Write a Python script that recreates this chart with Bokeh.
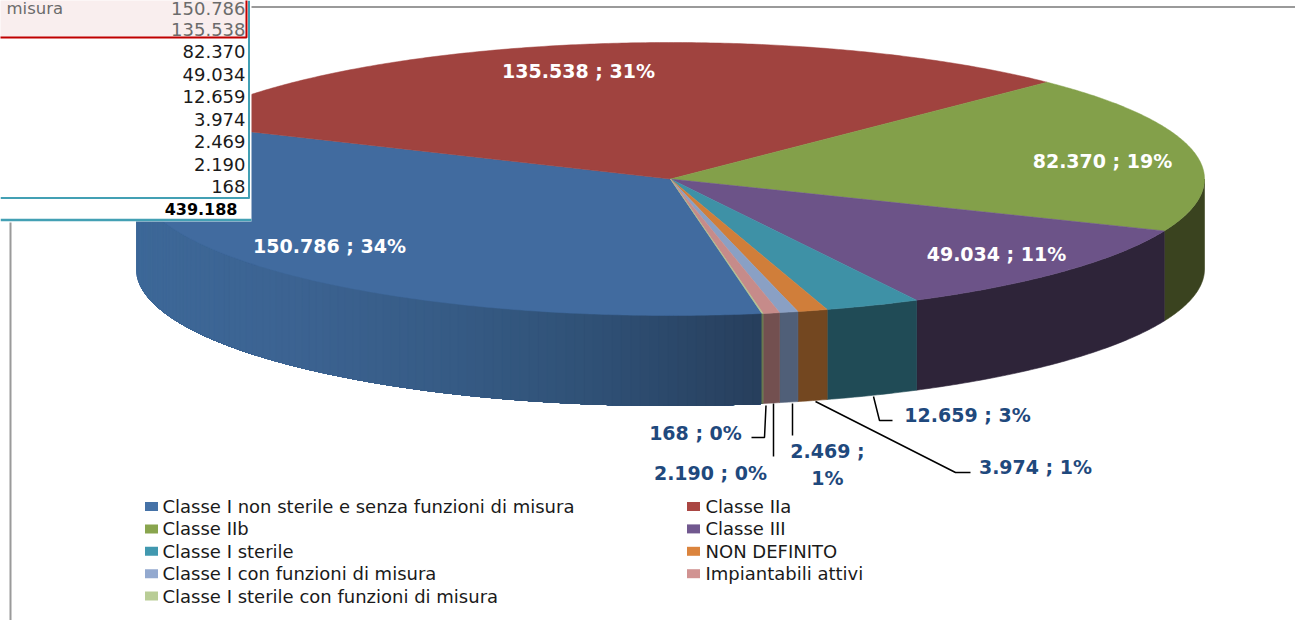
import math

from bokeh.core.properties import value
from bokeh.embed import file_html
from bokeh.models import Range1d
from bokeh.plotting import figure
from bokeh.resources import INLINE

# Devices per class, in slice order (clockwise from the start angle)
categories = [
    "Classe I non sterile e senza funzioni di misura",
    "Classe IIa",
    "Classe IIb",
    "Classe III",
    "Classe I sterile",
    "NON DEFINITO",
    "Classe I con funzioni di misura",
    "Impiantabili attivi",
    "Classe I sterile con funzioni di misura",
]
counts = [150786, 135538, 82370, 49034, 12659, 3974, 2469, 2190, 168]

top_colors = ["#416b9f", "#a0433f", "#83a04a", "#6c5388", "#3e91a6",
              "#d07e3a", "#8aa0c4", "#c68b8a", "#b0c38f"]
side_colors = ["#2b4566", "#6a2c2a", "#3a431f", "#2e2439", "#204b56",
               "#734720", "#505f78", "#735050", "#6a7a50"]
legend_colors = ["#4572a7", "#aa4643", "#89a54e", "#71588f", "#4198af",
                 "#db843d", "#93a9cf", "#d19392", "#b9cd96"]

# Lighting of the largest slice's wall, left to right
wall_stops = [(136, "#3d6898"), (290, "#3c6392"), (450, "#365b85"),
              (600, "#2f5075"), (762, "#273e5c")]

# Pie projection
CX, CY, RX, RY, DEPTH = 670.0, 178.5, 534.0, 136.5, 90.0
START_DEG = 279.85

total = sum(counts)


def fmt(n):
    return f"{n:,}".replace(",", ".")


def rim(deg, drop=0.0):
    t = math.radians(deg)
    return CX + RX * math.cos(t), CY - RY * math.sin(t) + drop


def wall_shade(x):
    for (x0, c0), (x1, c1) in zip(wall_stops, wall_stops[1:]):
        if x <= x1:
            f = max(0.0, (x - x0) / (x1 - x0))
            a = [int(c0[i:i + 2], 16) for i in (1, 3, 5)]
            b = [int(c1[i:i + 2], 16) for i in (1, 3, 5)]
            return "#%02x%02x%02x" % tuple(round(u + (v - u) * f) for u, v in zip(a, b))
    return wall_stops[-1][1]


def wall_polygon(lo, hi):
    """Wall below the rim between two angles."""
    steps = max(2, int((hi - lo) / 0.5))
    upper = [rim(lo + (hi - lo) * s / steps) for s in range(steps + 1)]
    lower = [rim(lo + (hi - lo) * s / steps, DEPTH) for s in range(steps, -1, -1)]
    pts = upper + lower
    return [q[0] for q in pts], [q[1] for q in pts]


p = figure(width=1295, height=620, output_backend="svg", toolbar_location=None,
           x_range=Range1d(0, 1295), y_range=Range1d(620, 0),
           x_axis_location=None, y_axis_location=None, min_border=0,
           outline_line_color=None, background_fill_color="white")
p.grid.visible = False

# Chart frame lines
p.line([10, 10], [222, 620], line_color="#9a9a9a", line_width=2)
p.line([250, 1295], [6.5, 6.5], line_color="#9a9a9a", line_width=2)

# Slice extents, clockwise
spans = []
angle = START_DEG
for c in counts:
    sweep = 360.0 * c / total
    spans.append((angle, angle - sweep))
    angle -= sweep

# Visible wall of each slice: only the part on the front half of the rim.
# The shaded wall is painted in bands, each running on to the slice's end so
# that the next band covers it and no seam shows.
wall_xs, wall_ys, wall_cols = [], [], []
for i, (a0, a1) in enumerate(spans):
    for shift in (0, 360):
        hi = min(a0 + shift, 360.0)
        lo = max(a1 + shift, 180.0)
        if hi <= lo:
            continue
        if i == 0:
            bands = int((hi - lo) / 1.0)
            for s in range(bands):
                d0 = lo + (hi - lo) * s / bands
                xs, ys = wall_polygon(d0, hi)
                wall_xs.append(xs)
                wall_ys.append(ys)
                wall_cols.append(wall_shade(rim(d0 + (hi - lo) / bands / 2)[0]))
        else:
            xs, ys = wall_polygon(lo, hi)
            wall_xs.append(xs)
            wall_ys.append(ys)
            wall_cols.append(side_colors[i])
p.patches(wall_xs, wall_ys, fill_color=wall_cols, line_color=wall_cols, line_width=0.6)

# Top face of each slice
top_xs, top_ys = [], []
for a0, a1 in spans:
    steps = max(2, int((a0 - a1) / 0.5))
    pts = [rim(a0 + (a1 - a0) * s / steps) for s in range(steps + 1)]
    top_xs.append([CX] + [q[0] for q in pts])
    top_ys.append([CY] + [q[1] for q in pts])
p.patches(top_xs, top_ys, fill_color=top_colors, line_color=top_colors, line_width=0.5)

# Data labels
labels = [f"{fmt(c)} ; {round(100 * c / total)}%" for c in counts]
LABEL_FONT = value("DejaVu Sans")
inside_at = [(329, 245), (578, 70.5), (1102, 160.5), (996, 253.5)]
p.text([q[0] for q in inside_at], [q[1] for q in inside_at], text=labels[:4],
       text_color="white", text_font=LABEL_FONT, text_font_style="bold",
       text_font_size="19px", text_align="center", text_baseline="middle")

outside_at = [(967, 414.5), (1035, 466), (827, 464), (710, 472.5), (695, 432.5)]
outside_text = [labels[4], labels[5], labels[6].replace("; ", ";\n"), labels[7], labels[8]]
p.text([q[0] for q in outside_at], [q[1] for q in outside_at], text=outside_text,
       text_color="#1f497d", text_font=LABEL_FONT, text_font_style="bold",
       text_font_size="19px", text_align="center", text_baseline="middle",
       text_line_height=1.2)

# Leader lines
leaders = [
    ([873, 879, 892], [396, 420, 420]),
    ([815, 955, 970], [401, 472, 472]),
    ([792, 792], [403, 435]),
    ([773, 773], [403, 456]),
    ([765.5, 764, 751], [405, 437, 437]),
]
p.multi_line([q[0] for q in leaders], [q[1] for q in leaders],
             line_color="black", line_width=1.5)

# Legend, two columns, filled row by row
LEG_ROW0, LEG_STEP = 506.0, 22.4
leg_col = [(151, 162), (693, 705)]
leg_sx, leg_sy, leg_tx = [], [], []
for i in range(len(categories)):
    sx, tx = leg_col[i % 2]
    row = i // 2
    leg_sx.append(sx)
    leg_sy.append(LEG_ROW0 + row * LEG_STEP)
    leg_tx.append(tx)
p.rect(leg_sx, leg_sy, width=13, height=9, width_units="screen", height_units="screen",
       fill_color=legend_colors, line_color=None)
p.text(leg_tx, leg_sy, text=categories, text_color="#1a1a1a",
       text_font=value("DejaVu Sans"), text_font_size="18px",
       text_align="left", text_baseline="middle")

# Summary table laid over the upper-left corner
table_rows = [7.5, 29, 51, 73.5, 96, 118.5, 141, 163.5, 186]
p.quad(left=[0], right=[251], top=[0], bottom=[221], fill_color="white", line_color=None)
p.quad(left=[-3], right=[246], top=[-3], bottom=[37], fill_color="#f9eeee",
       line_color="#c00000", line_width=2)
p.line([248.5, 248.5], [0, 198], line_color="#43a0b4", line_width=2)
p.line([0, 249], [197.5, 197.5], line_color="#43a0b4", line_width=2)
p.line([0, 251], [219.5, 219.5], line_color="#43a0b4", line_width=2.5)
TABLE_FONT = value("DejaVu Sans")
p.text([6], [table_rows[0]], text=["misura"], text_color="#6b6b6b", text_font=TABLE_FONT,
       text_font_size="16.5px", text_baseline="middle")
p.text([245] * len(counts), table_rows, text=[fmt(c) for c in counts],
       text_color=["#6b6b6b", "#6b6b6b"] + ["#1a1a1a"] * (len(counts) - 2),
       text_font=TABLE_FONT, text_font_size="18px", text_align="right", text_baseline="middle")
p.text([237], [208], text=[fmt(total)], text_color="black", text_font=TABLE_FONT,
       text_font_style="bold", text_font_size="16px", text_align="right", text_baseline="middle")

open("out.html", "w").write(file_html(p, INLINE))
